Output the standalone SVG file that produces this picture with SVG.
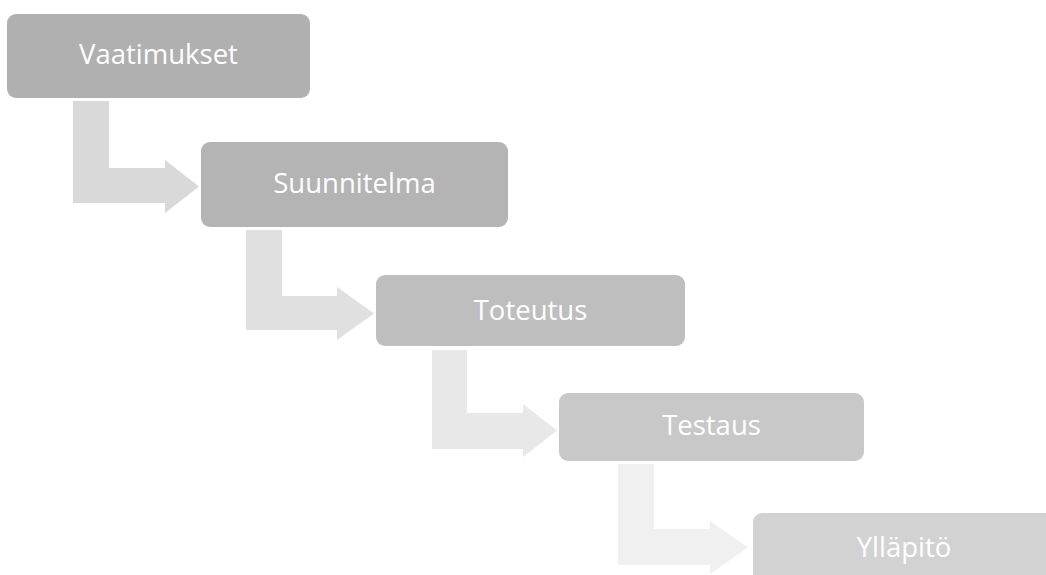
<svg xmlns="http://www.w3.org/2000/svg" width="1046" height="575" viewBox="0 0 1046 575">
<style>
.lbl{font-family:"Open Sans","Noto Sans","Liberation Sans",sans-serif;font-size:27.5px;fill:#ffffff;text-anchor:middle}
</style>
<rect width="1046" height="575" fill="#ffffff"/>
<g id="connectors">
<path d="M73,101 H109 V168 H165 V160 L199,186.5 L165,213 V203 H73 Z" fill="#d9d9d9"/>
<path d="M246,230 H282 V296 H337 V287 L374,313.5 L337,340 V330 H246 Z" fill="#e0e0e0"/>
<path d="M432,350 H467 V413 H523 V404 L557,430.5 L523,457 V449 H432 Z" fill="#e8e8e8"/>
<path d="M618,464 H654 V529 H710 V521 L748,547.5 L710,574 V565 H618 Z" fill="#f0f0f0"/>
</g>
<g id="node1">
<rect x="7" y="14" width="303" height="84" rx="9" fill="#b0b0b0"/>
<text class="lbl" x="158.5" y="64">Vaatimukset</text>
</g>
<g id="node2">
<rect x="201" y="142" width="307" height="85" rx="9" fill="#b4b4b4"/>
<text class="lbl" x="354.5" y="193">Suunnitelma</text>
</g>
<g id="node3">
<rect x="376" y="275" width="309" height="71" rx="9" fill="#bebebe"/>
<text class="lbl" x="530.5" y="320">Toteutus</text>
</g>
<g id="node4">
<rect x="559" y="393" width="305" height="68" rx="9" fill="#c8c8c8"/>
<text class="lbl" x="711.5" y="435">Testaus</text>
</g>
<g id="node5">
<rect x="753" y="513" width="303" height="71" rx="9" fill="#d2d2d2"/>
<text class="lbl" x="904" y="557">Ylläpitö</text>
</g>
</svg>
